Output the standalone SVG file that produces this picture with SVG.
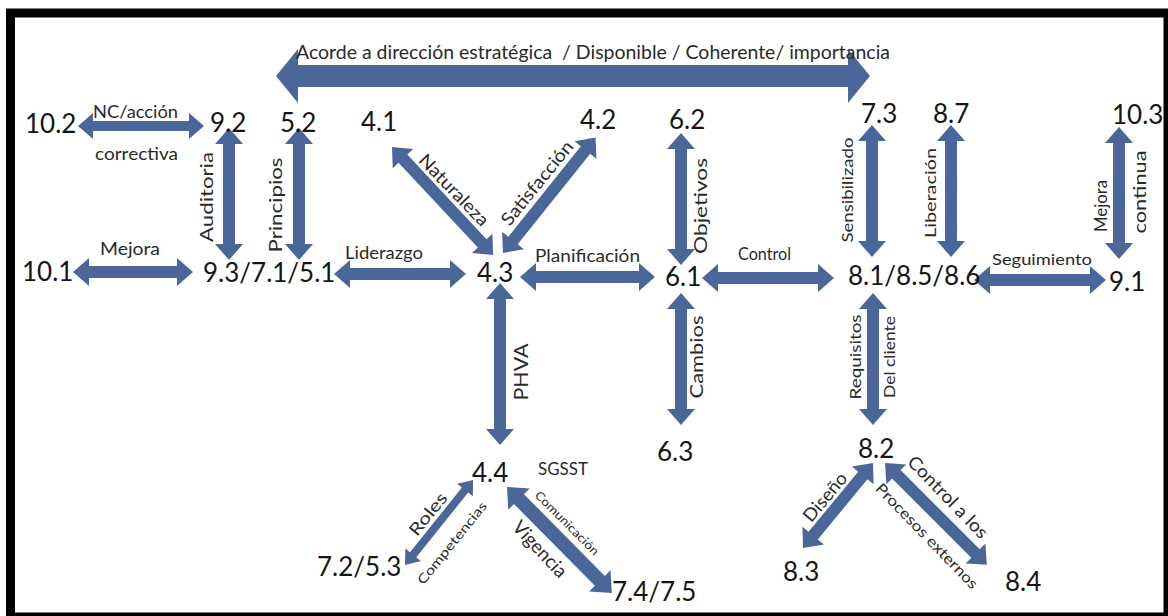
<svg xmlns="http://www.w3.org/2000/svg" xmlns:xlink="http://www.w3.org/1999/xlink" width="1168" height="616" viewBox="0 0 1168 616">
  <style>
    .arrow { fill: #4b6799; }
    .num { font-family: Lato, "Open Sans", "Liberation Sans", sans-serif; font-size: 26px; fill: #151515; }
    .lbl { font-family: Lato, "Open Sans", "Liberation Sans", sans-serif; font-size: 18px; fill: #2a2a2a; }
    .sm { font-size: 15px; }
    .xs { font-size: 13px; }
    .mid { text-anchor: middle; }
  </style>
  <defs>
    <!-- double-headed block arrows, drawn along +x from 0 to their length -->
    <path id="a132" d="M0,0 L16,-14 L16,-6 L116,-6 L116,-14 L132,0 L116,14 L116,6 L16,6 L16,14 Z"/>
    <path id="a148" d="M0,0 L16,-14 L16,-6 L132,-6 L132,-14 L148,0 L132,14 L132,6 L16,6 L16,14 Z"/>
  </defs>

  <rect width="1168" height="616" fill="#ffffff"/>
  <!-- frame -->
  <rect x="10.5" y="13" width="1157.5" height="604" fill="none" stroke="#000" stroke-width="9"/>

  <g id="connectors" class="arrow">
    <!-- top banner arrow -->
    <path d="M0,0 L22,-27 L22,-11 L572,-11 L572,-27 L594,0 L572,27 L572,11 L22,11 L22,27 Z" transform="translate(276,76)"/>
    <!-- 10.2 - 9.2 -->
    <path d="M0,0 L15,-13 L15,-5 L111,-5 L111,-13 L126,0 L111,13 L111,5 L15,5 L15,13 Z" transform="translate(78,126)"/>
    <!-- 10.1 - 9.3/7.1/5.1 -->
    <path d="M0,0 L16,-14 L16,-6 L104,-6 L104,-14 L120,0 L104,14 L104,6 L16,6 L16,14 Z" transform="translate(73,272)"/>
    <!-- vertical links -->
    <use xlink:href="#a132" transform="translate(229,128) rotate(90)"/>
    <use xlink:href="#a132" transform="translate(299,128) rotate(90)"/>
    <use xlink:href="#a132" transform="translate(681,133) rotate(90)"/>
    <use xlink:href="#a132" transform="translate(681,293) rotate(90)"/>
    <use xlink:href="#a132" transform="translate(872,125) rotate(90)"/>
    <use xlink:href="#a132" transform="translate(951,125) rotate(90)"/>
    <use xlink:href="#a132" transform="translate(1119,127) rotate(90)"/>
    <use xlink:href="#a132" transform="translate(873,293) rotate(90)"/>
    <path d="M0,0 L16,-14 L16,-6 L146,-6 L146,-14 L162,0 L146,14 L146,6 L16,6 L16,14 Z" transform="translate(500,283) rotate(90)"/>
    <!-- horizontal links on the middle row -->
    <use xlink:href="#a132" transform="translate(334,274)"/>
    <path d="M0,0 L16,-14 L16,-6 L119,-6 L119,-14 L135,0 L119,14 L119,6 L16,6 L16,14 Z" transform="translate(520,277)"/>
    <use xlink:href="#a132" transform="translate(702,278)"/>
    <use xlink:href="#a132" transform="translate(974,280)"/>
    <!-- diagonals around 4.3 -->
    <use xlink:href="#a148" transform="translate(392,147) rotate(46.9)"/>
    <use xlink:href="#a148" transform="translate(503,253) rotate(-51.3)"/>
    <!-- diagonals below 4.4 -->
    <path d="M0,0 L13,-10 L13,-4 L96,-4 L96,-10 L109,0 L96,10 L96,4 L13,4 L13,10 Z" transform="translate(405,565) rotate(-51.3)"/>
    <path d="M0,0 L17,-15 L17,-7 L132,-7 L132,-15 L149,0 L132,15 L132,7 L17,7 L17,15 Z" transform="translate(507,487) rotate(45.3)"/>
    <!-- diagonals below 8.2 -->
    <path d="M0,0 L16,-14 L16,-6 L94,-6 L94,-14 L110,0 L94,14 L94,6 L16,6 L16,14 Z" transform="translate(803,548) rotate(-50.5)"/>
    <path d="M0,0 L16,-14 L16,-6 L128,-6 L128,-14 L144,0 L128,14 L128,6 L16,6 L16,14 Z" transform="translate(885,463) rotate(45)"/>
  </g>

  <g id="connector-labels" class="lbl">
    <text x="296" y="59" font-size="20" xml:space="preserve" textLength="594" lengthAdjust="spacingAndGlyphs">Acorde a dirección estratégica  / Disponible / Coherente/ importancia</text>
    <text x="93" y="118" textLength="85" lengthAdjust="spacingAndGlyphs">NC/acción</text>
    <text x="95" y="160" textLength="83" lengthAdjust="spacingAndGlyphs">correctiva</text>
    <text x="100" y="255" textLength="60" lengthAdjust="spacingAndGlyphs">Mejora</text>
    <text x="345" y="259" textLength="78" lengthAdjust="spacingAndGlyphs">Liderazgo</text>
    <text x="535" y="262" textLength="105" lengthAdjust="spacingAndGlyphs">Planificación</text>
    <text x="738" y="260" textLength="53" lengthAdjust="spacingAndGlyphs">Control</text>
    <text x="992" y="265" font-size="16" textLength="100" lengthAdjust="spacingAndGlyphs">Seguimiento</text>
    <text x="538" y="475" font-size="17" textLength="50" lengthAdjust="spacingAndGlyphs">SGSST</text>

    <text class="mid" dy="0.35em" transform="translate(207,197) rotate(-90)" textLength="90" lengthAdjust="spacingAndGlyphs">Auditoria</text>
    <text class="mid" dy="0.35em" transform="translate(276,205) rotate(-90)" textLength="95" lengthAdjust="spacingAndGlyphs">Principios</text>
    <text class="mid" dy="0.35em" transform="translate(454,190) rotate(46)" textLength="92" lengthAdjust="spacingAndGlyphs">Naturaleza</text>
    <text class="mid" dy="0.35em" transform="translate(537,183) rotate(-51)" textLength="103" lengthAdjust="spacingAndGlyphs">Satisfacción</text>
    <text class="mid" dy="0.35em" transform="translate(701,206) rotate(-90)" textLength="96" lengthAdjust="spacingAndGlyphs">Objetivos</text>
    <text class="mid" dy="0.35em" transform="translate(697,357) rotate(-90)" textLength="83" lengthAdjust="spacingAndGlyphs">Cambios</text>
    <text class="mid" dy="0.35em" font-size="19" transform="translate(521,372) rotate(-90)" textLength="57" lengthAdjust="spacingAndGlyphs">PHVA</text>
    <text class="mid sm" dy="0.35em" transform="translate(848,190) rotate(-90)" textLength="105" lengthAdjust="spacingAndGlyphs">Sensibilizado</text>
    <text class="mid sm" dy="0.35em" transform="translate(931,193) rotate(-90)" textLength="90" lengthAdjust="spacingAndGlyphs">Liberación</text>
    <text class="mid" dy="0.35em" transform="translate(1101,206) rotate(-90)" textLength="52" lengthAdjust="spacingAndGlyphs">Mejora</text>
    <text class="mid" dy="0.35em" transform="translate(1140,192) rotate(-90)" textLength="83" lengthAdjust="spacingAndGlyphs">continua</text>
    <text class="mid sm" dy="0.35em" transform="translate(856,357) rotate(-90)" textLength="85" lengthAdjust="spacingAndGlyphs">Requisitos</text>
    <text class="mid sm" dy="0.35em" transform="translate(890,357) rotate(-90)" textLength="82" lengthAdjust="spacingAndGlyphs">Del cliente</text>
    <text class="mid" dy="0.35em" transform="translate(825,497) rotate(-50)" textLength="58" lengthAdjust="spacingAndGlyphs">Diseño</text>
    <text class="mid" dy="0.35em" transform="translate(948,497) rotate(46)" textLength="107" lengthAdjust="spacingAndGlyphs">Control a los</text>
    <text class="mid sm" dy="0.35em" transform="translate(927,536) rotate(46)" textLength="140" lengthAdjust="spacingAndGlyphs">Procesos externos</text>
    <text class="mid" dy="0.35em" font-size="17" transform="translate(428,514) rotate(-51)" textLength="50" lengthAdjust="spacingAndGlyphs">Roles</text>
    <text class="mid xs" dy="0.35em" transform="translate(452,543) rotate(-51)" textLength="102" lengthAdjust="spacingAndGlyphs">Competencias</text>
    <text class="mid" dy="0.35em" font-size="19" transform="translate(540,549) rotate(47)" textLength="70" lengthAdjust="spacingAndGlyphs">Vigencia</text>
    <text class="mid" dy="0.35em" font-size="12" transform="translate(567,523) rotate(45)" textLength="85" lengthAdjust="spacingAndGlyphs">Comunicación</text>
  </g>

  <g class="num">
    <g id="n10_2"><text x="25" y="133">10.2</text></g>
    <g id="n9_2"><text x="210" y="132">9.2</text></g>
    <g id="n5_2"><text x="280" y="132">5.2</text></g>
    <g id="n4_1"><text x="361" y="131">4.1</text></g>
    <g id="n4_2"><text x="580" y="129">4.2</text></g>
    <g id="n6_2"><text x="669" y="129">6.2</text></g>
    <g id="n7_3"><text x="861" y="123">7.3</text></g>
    <g id="n8_7"><text x="933" y="123">8.7</text></g>
    <g id="n10_3"><text x="1112" y="124">10.3</text></g>
    <g id="n10_1"><text x="22" y="281">10.1</text></g>
    <g id="n9_3"><text x="203" y="282">9.3/7.1/5.1</text></g>
    <g id="n4_3"><text x="477" y="282">4.3</text></g>
    <g id="n6_1"><text x="665" y="286">6.1</text></g>
    <g id="n8_1"><text x="848" y="285">8.1/8.5/8.6</text></g>
    <g id="n9_1"><text x="1109" y="291">9.1</text></g>
    <g id="n6_3"><text x="657" y="461">6.3</text></g>
    <g id="n4_4"><text x="472" y="482">4.4</text></g>
    <g id="n8_2"><text x="858" y="458">8.2</text></g>
    <g id="n7_2"><text x="317" y="576">7.2/5.3</text></g>
    <g id="n7_4"><text x="612" y="601">7.4/7.5</text></g>
    <g id="n8_3"><text x="783" y="581">8.3</text></g>
    <g id="n8_4"><text x="1005" y="591">8.4</text></g>
  </g>
</svg>
